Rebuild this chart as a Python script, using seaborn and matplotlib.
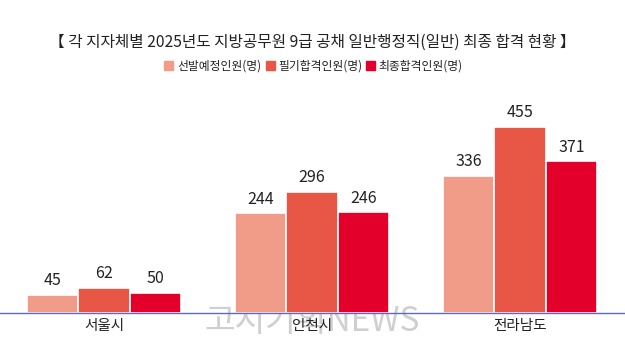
import numpy as np
import pandas as pd
import seaborn as sns
from matplotlib import pyplot as plt

regions = ["서울시", "인천시", "전라남도"]
series = ["선발예정인원(명)", "필기합격인원(명)", "최종합격인원(명)"]
planned = [45, 244, 336]
written = [62, 296, 455]
final = [50, 246, 371]
palette = ["#F09C88", "#E85645", "#E3002B"]

title = "【 각 지자체별 2025년도 지방공무원 9급 공채 일반행정직(일반) 최종 합격 현황 】"

df = pd.DataFrame({
    "region": regions * 3,
    "series": [s for s in series for _ in regions],
    "value": planned + written + final,
})

sns.set_theme(style="white")
plt.rcParams["font.family"] = ["Noto Sans CJK KR", "DejaVu Sans"]

fig = plt.figure(figsize=(6.25, 3.52), dpi=100)
ax = fig.add_axes([0, 39 / 352, 1, 213 / 352])
ax.patch.set_visible(False)

sns.barplot(
    data=df, x="region", y="value", hue="series", hue_order=series,
    palette=palette, width=0.74, saturation=1, edgecolor="white",
    linewidth=1.2, ax=ax, legend=False,
)

for cont in ax.containers:
    ax.bar_label(cont, padding=4, fontsize=11.5, color="#222222")

ax.set_xlim(-0.5, 2.505)
ax.set_ylim(0, 521)
ax.set_xlabel("")
ax.set_ylabel("")
ax.set_yticks([])
ax.tick_params(axis="x", length=0, labelsize=10.5, colors="#222222", pad=4)
for side in ["top", "left", "right"]:
    ax.spines[side].set_visible(False)
ax.spines["bottom"].set_color("#5B6BC0")
ax.spines["bottom"].set_linewidth(1.0)

fig.text(0.5, 1 - 42 / 352, title, ha="center", va="center", fontsize=11.3, color="#222222")

# legend
lx = [0.263, 0.425, 0.585]
for x, s, c in zip(lx, series, palette):
    fig.patches.append(plt.Rectangle((x, 1 - 70 / 352), 9 / 625, 9 / 352,
                                     transform=fig.transFigure, color=c))
    fig.text(x + 13 / 625, 1 - 66 / 352, s, ha="left", va="center", fontsize=8.5, color="#222222")

fig.text(0.5, 1 - 321 / 352, "고시기획NEWS", ha="center", va="center",
         fontsize=24, color="#CFCFCF", zorder=-1)

fig.savefig("out.png", dpi=100)
